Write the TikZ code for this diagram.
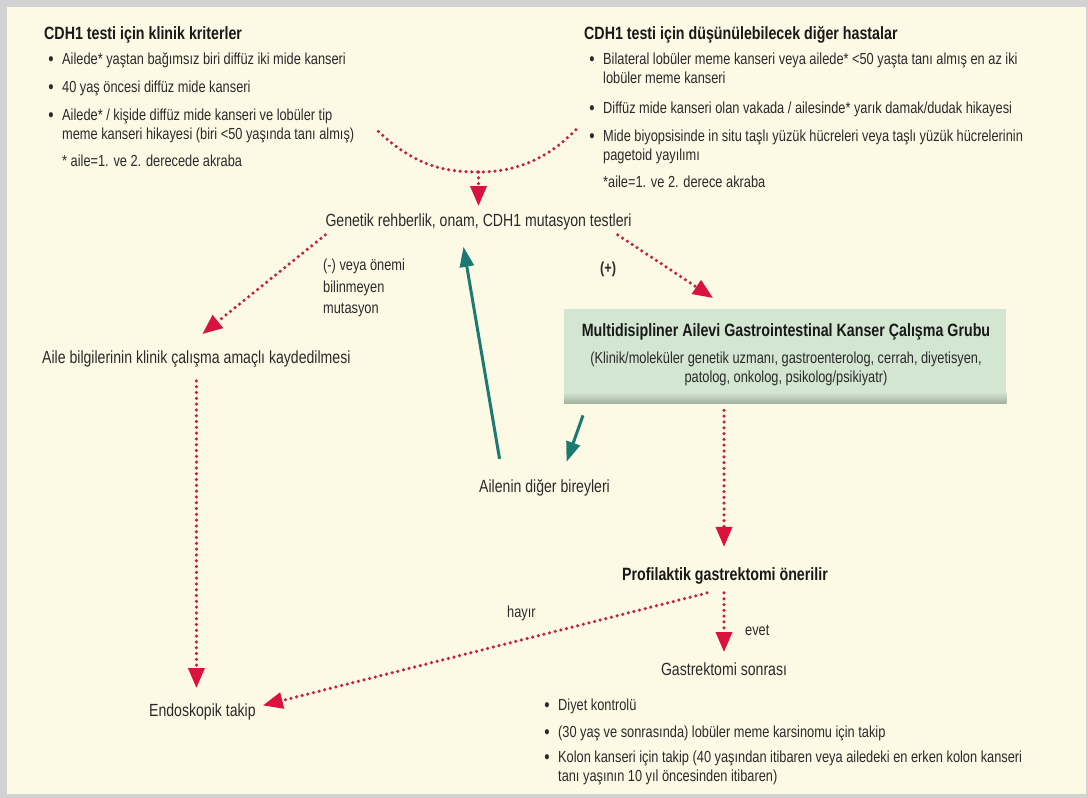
\documentclass[tikz,border=0pt]{standalone}
\usepackage{fontspec}
\setmainfont{Liberation Sans}[FakeStretch=0.8]
\usetikzlibrary{arrows.meta}
\definecolor{cream}{HTML}{FCFAE5}
\definecolor{framegray}{HTML}{D2D2D2}
\definecolor{dotred}{HTML}{C41E44}
\definecolor{tipred}{HTML}{DC123E}
\definecolor{teal}{HTML}{1C7A72}
\definecolor{boxgreen}{HTML}{D3E6D1}
\definecolor{boxshade}{HTML}{A2B19F}
\definecolor{txt}{HTML}{2A2A2A}
\newcommand\fbody{\fontsize{16}{19.5}\selectfont}
\newcommand\fbig{\fontsize{17.6}{20}\selectfont}
\newcommand\fhead{\fontsize{17.8}{20}\selectfont\bfseries}
\newcommand\bul{\llap{{\fontsize{19}{19}\selectfont\raisebox{-1.1pt}{\textbullet}}\hspace{8.5pt}}}
\tikzset{
  head/.style={anchor=base west, inner sep=0pt, font=\fhead, text=black!90},
  item/.style={anchor=base west, inner sep=0pt, font=\fbody, text=txt, align=left},
  big/.style={inner sep=0pt, font=\fbig, text=txt},
  dots/.style={draw=dotred, line width=3.5pt, line cap=round, dash pattern=on 0pt off 5.8pt},
  redarrow/.style={dots, -{Triangle[length=20pt,width=16pt,color=tipred]}},
  tealarrow/.style={draw=teal, line width=3pt, -{Triangle[length=20pt,width=14pt,color=teal]}},
}
\begin{document}
\begin{tikzpicture}[x=1pt,y=-1pt]
\useasboundingbox (0,0) rectangle (1088,798);
\fill[framegray] (0,0) rectangle (1088,798);
\fill[cream] (7,7) rectangle (1086,794);

% left column (multi-line nodes are placed by their last baseline)
\node[head] (h1) at (44,39) {CDH1 testi için klinik kriterler};
\node[item] (a1) at (62,64) {\bul Ailede* yaştan bağımsız biri diffüz iki mide kanseri};
\node[item] (a2) at (62,92) {\bul 40 yaş öncesi diffüz mide kanseri};
\node[item] (a3) at (62,139.5) {\bul Ailede* / kişide diffüz mide kanseri ve lobüler tip\\meme kanseri hikayesi (biri <50 yaşında tanı almış)};
\node[item] (a4) at (62,166) {* aile=1. ve 2. derecede akraba};

% right column
\node[head] (h2) at (584,39) {CDH1 testi için düşünülebilecek diğer hastalar};
\node[item] (b1) at (603,83.5) {\bul Bilateral lobüler meme kanseri veya ailede* <50 yaşta tanı almış en az iki\\lobüler meme kanseri};
\node[item] (b2) at (603,113) {\bul Diffüz mide kanseri olan vakada / ailesinde* yarık damak/dudak hikayesi};
\node[item] (b3) at (603,160.5) {\bul Mide biyopsisinde in situ taşlı yüzük hücreleri veya taşlı yüzük hücrelerinin\\pagetoid yayılımı};
\node[item] (b4) at (603,187) {*aile=1. ve 2. derece akraba};

% central flow
\node[big, anchor=base] (gen) at (478.5,226) {Genetik rehberlik, onam, CDH1 mutasyon testleri};
\node[item] (neg) at (323,313.5) {(-) veya önemi\\[2.5pt]bilinmeyen\\[1.5pt]mutasyon};
\node[item, font=\fbody\bfseries] (pos) at (600,273) {(+)};
\node[big, anchor=base west] (aile) at (42,363) {Aile bilgilerinin klinik çalışma amaçlı kaydedilmesi};

\node[fill=boxgreen, minimum width=442pt, minimum height=90pt, inner sep=0pt, anchor=north west] (box) at (564,309) {};
\shade[top color=boxgreen, bottom color=boxshade] ([yshift=7pt]box.south west) rectangle ([yshift=-4pt]box.south east);
\node[inner sep=0pt, font=\fhead, text=black!90, anchor=base] (boxt) at (786,336) {Multidisipliner Ailevi Gastrointestinal Kanser Çalışma Grubu};
\node[inner sep=0pt, font=\fbody, text=txt, anchor=base, align=center] (boxs) at (786,382.5) {(Klinik/moleküler genetik uzmanı, gastroenterolog, cerrah, diyetisyen,\\patolog, onkolog, psikolog/psikiyatr)};

\node[big, anchor=base west] (ail) at (479,492) {Ailenin diğer bireyleri};
\node[inner sep=0pt, font=\fhead, text=black!90, anchor=base] (prof) at (725,580) {Profilaktik gastrektomi önerilir};
\node[big, anchor=base] (gs) at (724,675) {Gastrektomi sonrası};
\node[item] (evet) at (745,635) {evet};
\node[item] (hayir) at (507,617) {hayır};
\node[big, anchor=base west] (endo) at (149,716) {Endoskopik takip};

\node[item] (c1) at (558,710) {\bul Diyet kontrolü};
\node[item] (c2) at (558,737) {\bul (30 yaş ve sonrasında) lobüler meme karsinomu için takip};
\node[item] (c3) at (558,781.5) {\bul Kolon kanseri için takip (40 yaşından itibaren veya ailedeki en erken kolon kanseri\\tanı yaşının 10 yıl öncesinden itibaren)};

% connectors
\coordinate (cl) at ([xshift=24pt,yshift=8pt]a3.base east);
\coordinate (cr) at ([xshift=-26pt,yshift=32pt]b3.base west);
\coordinate (cm) at (gen.north |- 0,172);
\draw[dots] (cl) .. controls (415,166) and (445,172) .. (cm) .. controls (512,172) and (545,162) .. (cr);
\draw[redarrow] (cm) -- ([yshift=7pt]gen.north);

\draw[redarrow] ([yshift=-5pt]gen.south west) -- ([xshift=6pt,yshift=16pt]aile.north);
\draw[redarrow] ([xshift=-14pt,yshift=-5pt]gen.south east) -- ([xshift=149pt,yshift=11pt]box.north west);

\draw[tealarrow] ([xshift=-45pt,yshift=20pt]ail.north) -- ([xshift=-15pt,yshift=-17pt]gen.south);
\draw[tealarrow] ([xshift=19pt,yshift=-16pt]box.south west) -- ([xshift=22pt,yshift=17pt]ail.north);

\coordinate (boxout) at (prof.north |- box.south);
\draw[redarrow] ([xshift=-1pt,yshift=-11pt]boxout) -- ([xshift=-1pt,yshift=20pt]prof.north);
\draw[redarrow] ([xshift=-1pt,yshift=-9pt]prof.south) -- ([yshift=10pt]gs.north);
\draw[redarrow] ([xshift=-18pt,yshift=-9pt]prof.south) -- ([xshift=7pt,yshift=6pt]endo.east);

\coordinate (ailout) at ([yshift=-14pt]aile.south -| endo.north);
\draw[redarrow] ([xshift=-6pt]ailout) -- ([xshift=-6pt,yshift=15pt]endo.north);
\end{tikzpicture}
\end{document}
